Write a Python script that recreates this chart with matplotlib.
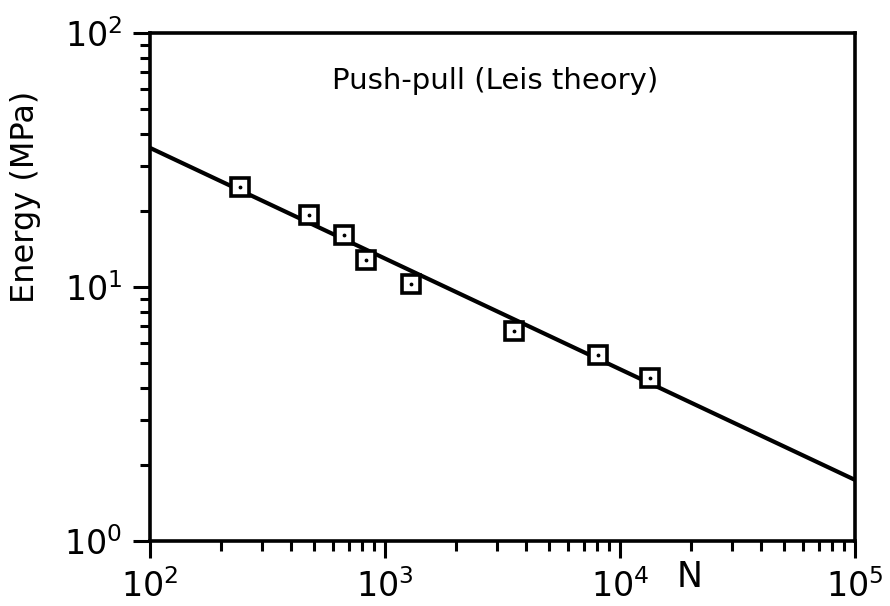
#Energy vs cycles, push-pull fatigue (Leis theory), log-log
import numpy as np
import matplotlib.pyplot as plt

cycles = [242, 475, 669, 830, 1290, 3540, 8050, 13400]
energy = [24.8, 19.2, 16.0, 12.8, 10.3, 6.7, 5.4, 4.4]

# straight line drawn through the data (end points at the axis limits)
fit_N = [1e2, 1e5]
fit_E = [35.3, 1.74]

plt.rcParams['font.family'] = ['DejaVu Sans']
plt.rcParams['mathtext.default'] = 'regular'

fig = plt.figure(figsize=(8.9, 6.06), dpi=100)
ax = fig.add_axes([150/890, 1-541/606, 705/890, 508/606])

ax.plot(fit_N, fit_E, color='black', lw=3, solid_capstyle='butt')
ax.plot(cycles, energy, ls='none', marker='s', ms=12.5, mfc='white',
        mec='black', mew=2.6)
ax.plot(cycles, energy, ls='none', marker='.', ms=3.5, color='black')

ax.set_xscale('log')
ax.set_yscale('log')
ax.set_xlim(1e2, 1e5)
ax.set_ylim(1e0, 1e2)

for s in ax.spines.values():
    s.set_linewidth(2.6)

ax.tick_params(which='major', direction='out', length=12, width=2.2,
               labelsize=24, pad=8)
ax.tick_params(which='minor', direction='out', length=7, width=2.2)

ax.set_ylabel('Energy (MPa)', fontsize=23)
ax.yaxis.set_label_coords(-0.155, 0.677)
ax.text(0.49, 0.905, 'Push-pull (Leis theory)', transform=ax.transAxes,
        ha='center', va='center', fontsize=21)
ax.text(0.765, -0.07, 'N', transform=ax.transAxes, ha='center',
        va='center', fontsize=25)

fig.savefig('out.png', dpi=100)
